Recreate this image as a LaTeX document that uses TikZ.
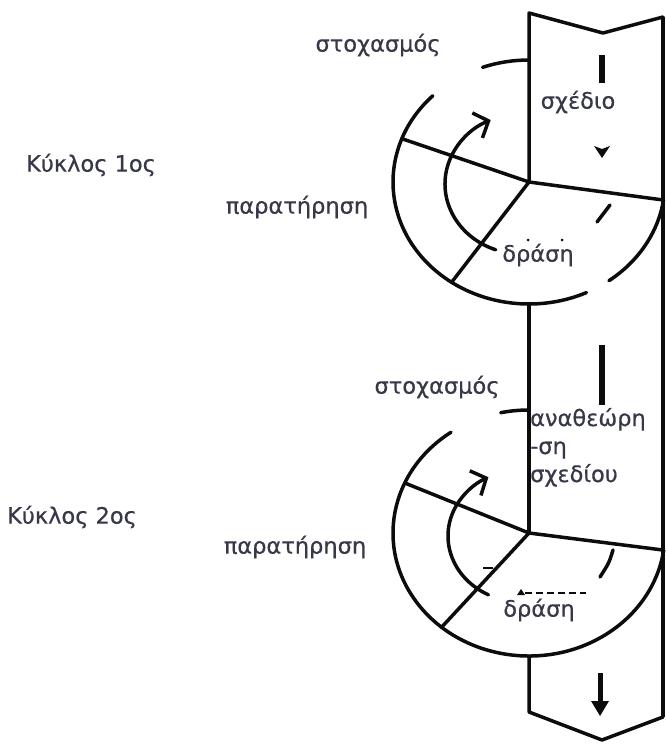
\documentclass[tikz,border=0pt]{standalone}
\usepackage{fontspec}
\setmainfont{DejaVu Sans}
\newfontfamily\lblfont{DejaVu Sans}[FakeBold=0.5]
\usetikzlibrary{arrows.meta}
\definecolor{txt}{RGB}{55,56,72}
\definecolor{ink}{RGB}{12,12,12}
\begin{document}
\begin{tikzpicture}[x=1pt,y=-1pt,
  line/.style={draw=ink, line width=3.5pt, line cap=round, line join=round},
  edge/.style={draw=ink, line width=4.5pt},
  bar/.style={draw=ink, line width=6.5pt},
  cyc/.style={line, -{Straight Barb[length=12pt,width=27pt]}},
  lbl/.style={text=txt, font=\lblfont\fontsize{22.5}{28}\selectfont, inner sep=0pt}]
\useasboundingbox (0,0) rectangle (666,744);
\coordinate (c1) at (529,182);
\coordinate (c2) at (529,533);
% band
\draw[line] (c1) -- (529,13) -- (603,33) -- (663,17);
\draw[edge] (663,17) -- (663,717);
\draw[line] (529,304) -- (c2);
\draw[line] (529,656) -- (529,712) -- (602,740) -- (663,717);
% cycle 1
\draw[line] (c1) ++(250:136 and 122) arc[start angle=250,end angle=270,x radius=136,y radius=122];
\draw[line] (c1) ++(225:136 and 122) arc[start angle=225,end angle=65,x radius=136,y radius=122];
\draw[line] (c1) ++(54:136 and 122) arc[start angle=54,end angle=8.5,x radius=136,y radius=122];
\draw[line] (c1) -- ++(200.8:136 and 122);
\draw[line] (c1) -- ++(124.7:136 and 122);
\draw[line] (c1) -- ++(8.5:136 and 122);
\draw[cyc] (522,184) ++(110:77 and 70) arc[start angle=110,end angle=246,x radius=77,y radius=70];
\draw[line] (597,222) -- (610,205);
\fill[ink] (528,240) circle (1.5);
\fill[ink] (562,240) circle (1.5);
% cycle 2
\draw[line] (c2) ++(258:136 and 123) arc[start angle=258,end angle=270,x radius=136,y radius=123];
\draw[line] (c2) ++(235:136 and 123) arc[start angle=235,end angle=8,x radius=136,y radius=123];
\draw[line] (c2) -- ++(204:136 and 123);
\draw[line] (c2) -- ++(130:136 and 123);
\draw[line] (c2) -- ++(8:136 and 123);
\draw[cyc] (522,536) ++(117:74 and 66) arc[start angle=117,end angle=243,x radius=74,y radius=66];
\draw[line] (613,550) .. controls (609,563) .. (600,577);
\draw[ink, line width=1.5pt] (483,568) -- (493,568);
\draw[ink, line width=1.6pt, dash pattern=on 7pt off 4pt] (525,593) -- (586,593);
\fill[ink] (517,595) -- (521,589) -- (525,595) -- cycle;
% arrows in band
\draw[bar] (602,55) -- (602,83);
\fill[ink] (594,146) -- (602,149) -- (610,146) -- (602,158) -- cycle;
\draw[bar] (602,345) -- (602,405);
\draw[ink, line width=5pt] (600,673) -- (600,704);
\fill[ink] (591,701) -- (609,701) -- (600,716) -- cycle;
% labels
\node[lbl] (st1) at (378,45) {στοχασμός};
\node[lbl] (sx) at (578,102) {σχέδιο};
\node[lbl] (k1) at (91,165) {Κύκλος 1ος};
\node[lbl] (p1) at (297,207) {παρατήρηση};
\node[lbl] (d1) at (538,255) {δράση};
\node[lbl] (st2) at (437,387) {στοχασμός};
\node[lbl, anchor=base west, align=left] (an) at (530,482) {αναθεώρη\\-ση\\σχεδίου};
\node[lbl] (k2) at (72,517) {Κύκλος 2ος};
\node[lbl] (p2) at (295,547) {παρατήρηση};
\node[lbl] (d2) at (539,610) {δράση};
\end{tikzpicture}
\end{document}
